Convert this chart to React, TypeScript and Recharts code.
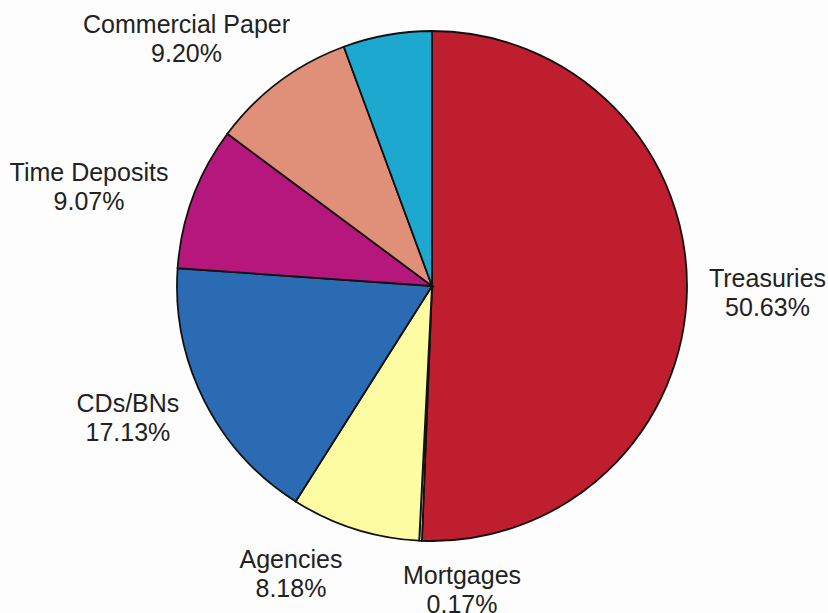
import { PieChart, Pie, Cell } from "recharts";

const names = ["Treasuries", "Mortgages", "Agencies", "CDs/BNs", "Time Deposits", "Commercial Paper", "Other"];
const shares = [50.63, 0.17, 8.18, 17.13, 9.07, 9.2, 5.62];
const pctLabels = ["50.63%", "0.17%", "8.18%", "17.13%", "9.07%", "9.20%", ""];

const colors = ["#BF1E2E", "#E8E2B0", "#FDFCA2", "#2B6BB3", "#B5177C", "#E08F78", "#1DA8D0"];

// label placement: angle (deg, counterclockwise from 3 o'clock) and distance from centre to first baseline
const labelAngle = [-0.17, 275.75, 243.43, 202.46, 162.93, 134.1, 0];
const labelDist = [335.5, 299.5, 315.3, 329, 358.8, 352.7, 0];

const data = names.map((n, i) => ({ name: n, value: shares[i], pct: pctLabels[i] }));

const renderLabel = (props: any) => {
  const { cx, cy, index } = props;
  if (!pctLabels[index]) return null;
  const a = (labelAngle[index] * Math.PI) / 180;
  const x = cx + labelDist[index] * Math.cos(a);
  const y = cy - labelDist[index] * Math.sin(a);
  return (
    <text
      key={index}
      x={x}
      y={y}
      textAnchor="middle"
      fill="#222"
      fontSize={25}
      fontFamily="'Liberation Sans', Arial, sans-serif"
    >
      <tspan x={x} y={y}>{names[index]}</tspan>
      <tspan x={x} y={y + 29}>{pctLabels[index]}</tspan>
    </text>
  );
};

export default function App() {
  return (
    <div style={{ position: "absolute", left: 0, top: 0, width: 828, height: 613, background: "#fdfdfd" }}>
      <PieChart width={828} height={613}>
        <Pie
          data={data}
          dataKey="value"
          cx={427}
          cy={281}
          outerRadius={255}
          startAngle={90}
          endAngle={-270}
          stroke="#111"
          strokeWidth={1.8}
          label={renderLabel}
          labelLine={false}
          isAnimationActive={false}
        >
          {data.map((d, i) => (
            <Cell key={d.name} fill={colors[i]} />
          ))}
        </Pie>
      </PieChart>
    </div>
  );
}
